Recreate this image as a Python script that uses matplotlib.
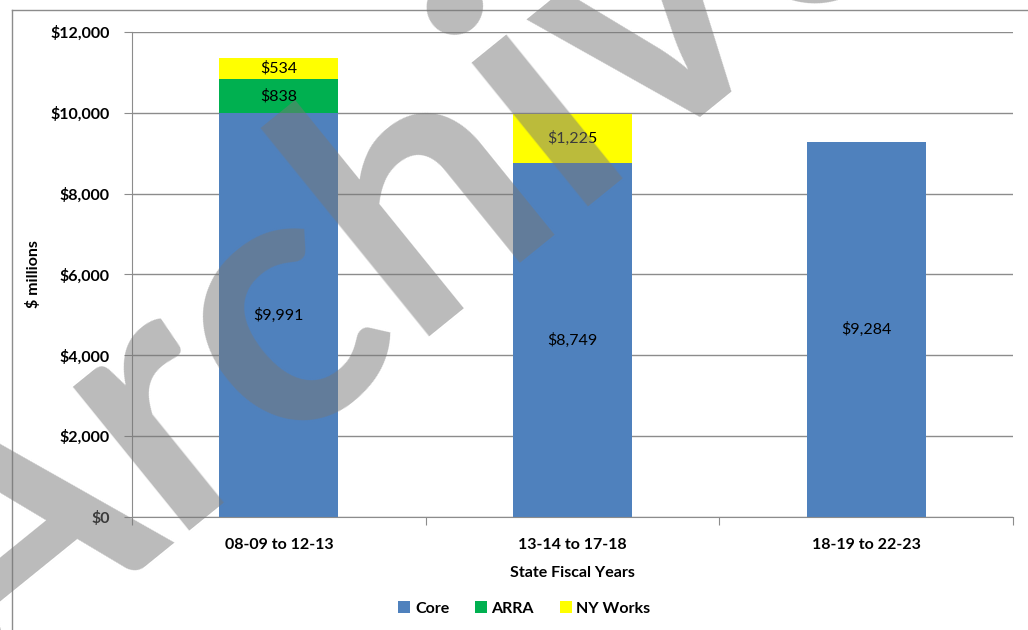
import matplotlib.pyplot as plt
from matplotlib.lines import Line2D
from matplotlib.patches import Patch
import numpy as np

plt.rcParams['font.family'] = ['Lato', 'DejaVu Sans']

periods = ['08-09 to 12-13', '13-14 to 17-18', '18-19 to 22-23']
core = [9991, 8749, 9284]
arra = [838, 0, 0]
ny_works = [534, 1225, 0]
y_ticks = [0, 2000, 4000, 6000, 8000, 10000, 12000]

colors = {'Core': '#4f81bd', 'ARRA': '#00b050', 'NY Works': '#ffff00'}
grid_color = '#8c8c8c'
fs = 11.5

fig = plt.figure(figsize=(10.28, 6.3), dpi=100)
ax = fig.add_axes([0.1284, 0.1794, 0.857, 0.7698])

x = np.arange(len(periods))
width = 0.405
bottom = np.zeros(len(periods))
for name, vals in [('Core', core), ('ARRA', arra), ('NY Works', ny_works)]:
    vals = np.array(vals, dtype=float)
    ax.bar(x, vals, width, bottom=bottom, color=colors[name], zorder=2)
    for xi, b, v in zip(x, bottom, vals):
        if v > 0:
            ax.text(xi, b + v / 2, f'${v:,.0f}', ha='center', va='center',
                    fontsize=fs, color='black', zorder=3)
    bottom += vals

ax.set_xlim(-0.5, 2.5)
ax.set_ylim(0, 12000)
ax.set_yticks(y_ticks)
ax.set_yticklabels([f'${v:,}' for v in y_ticks], fontsize=fs, fontweight='bold')
ax.yaxis.grid(True, color=grid_color, linewidth=1, zorder=0)
ax.set_axisbelow(True)

ax.set_xticks([-0.5, 0.5, 1.5, 2.5])
ax.set_xticklabels([])
ax.set_xticks(x, minor=True)
ax.set_xticklabels(periods, minor=True, fontsize=fs, fontweight='bold')
ax.tick_params(axis='x', which='minor', length=0, pad=15)
ax.tick_params(axis='x', which='major', length=6, color=grid_color)
ax.tick_params(axis='y', length=6, color=grid_color, pad=10)

for side in ['top', 'right']:
    ax.spines[side].set_visible(False)
for side in ['left', 'bottom']:
    ax.spines[side].set_color(grid_color)

ax.set_xlabel('State Fiscal Years', fontsize=fs, fontweight='bold', labelpad=10)
ax.set_ylabel('$ millions', fontsize=fs, fontweight='bold', labelpad=7)

handles = [Patch(facecolor=colors[k], label=k) for k in colors]
fig.legend(handles=handles, loc='center', bbox_to_anchor=(0.51, 0.034), ncol=3,
           frameon=False, prop={'size': fs, 'weight': 'bold'},
           handlelength=0.75, handleheight=0.75, handletextpad=0.3, columnspacing=1.6)

# chart area frame
fig.add_artist(Line2D([12 / 1028, 12 / 1028], [0, 1 - 10 / 630], transform=fig.transFigure,
                      color='#8c8c8c', linewidth=1))
fig.add_artist(Line2D([12 / 1028, 1], [1 - 10 / 630, 1 - 10 / 630], transform=fig.transFigure,
                      color='#8c8c8c', linewidth=1))

# diagonal watermark over everything
fig.text(-0.02, -0.115, 'Archive', rotation=39, rotation_mode='anchor',
         ha='left', va='baseline', fontsize=260, fontweight='bold',
         color='#777777', alpha=0.5, zorder=10)

fig.savefig('out.png', dpi=100)
